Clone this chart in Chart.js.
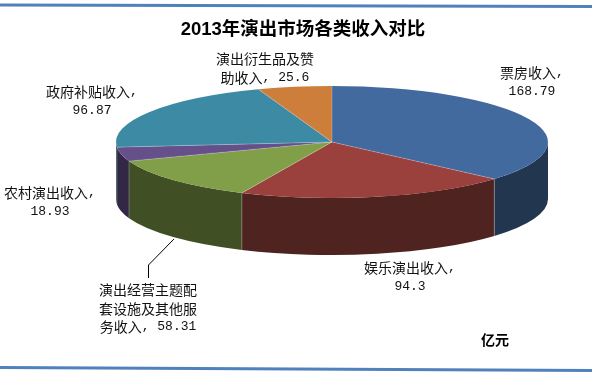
<!DOCTYPE html>
<html><head><meta charset="utf-8">
<style>html,body{margin:0;padding:0;background:#fff}canvas{display:block}</style>
<script src="https://cdn.jsdelivr.net/npm/chart.js@4/dist/chart.umd.min.js"></script>
</head><body><canvas id="c" width="592" height="377"></canvas>
<script>
const categories = ['票房收入','娱乐演出收入','演出经营主题配套设施及其他服务收入','农村演出收入','政府补贴收入','演出衍生品及赞助收入'];
const values = [168.79, 94.3, 58.31, 18.93, 96.87, 25.6];
const labelBreaks = [[5],[7],[7,14],[7],[7],[7]];
const titleText = '2013年演出市场各类收入对比';
const unitText = '亿元';
const topColors = ['#426A9E','#9A403D','#809F48','#65508A','#3C8AA4','#CD7E3B'];
const wallColors = ['#22364F','#4F2320','#414F24','#322845','#1E4552','#66401E'];

const VIEW = {cx:332, cy:142, rx:216, ry:56, depth:57};
const LABEL_POS = [[532,73],[410,268],[148,290],[50,193],[92,92],[265,59]];
const LINE_H = 18.3;
const CJK = "'Noto Sans CJK SC'", MONO = "'Liberation Mono'";

function labelLines(i){
  const t = categories[i] + ', ' + values[i];
  const out = []; let s = 0;
  for (const b of labelBreaks[i]) { out.push(t.slice(s,b).trim()); s = b; }
  out.push(t.slice(s).trim());
  return out;
}
function mixedText(ctx, text, x, y, size, weight){
  const runs = text.match(/[\x00-\x7f]+|[^\x00-\x7f]+/g) || [];
  const fontOf = r => /^[\x00-\x7f]/.test(r) ? `${weight} ${size-1}px ${MONO}` : `${weight} ${size}px ${CJK}`;
  let w = 0;
  for (const r of runs){ ctx.font = fontOf(r); w += ctx.measureText(r).width; }
  let px = x - w/2;
  ctx.textAlign = 'left'; ctx.textBaseline = 'middle';
  for (const r of runs){ ctx.font = fontOf(r); ctx.fillText(r, px, y); px += ctx.measureText(r).width; }
}

const pie3d = {
  id:'pie3d',
  beforeDraw(chart){
    const ctx = chart.ctx;
    ctx.save();
    ctx.fillStyle = '#4F81BD';
    for (const [yl,yr] of [[3.5,5],[366,369]]){
      ctx.beginPath();
      ctx.moveTo(0,yl); ctx.lineTo(592,yr); ctx.lineTo(592,yr+3); ctx.lineTo(0,yl+3);
      ctx.closePath(); ctx.fill();
    }
    ctx.restore();
  },
  beforeDatasetsDraw(chart){
    const ctx = chart.ctx, arcs = chart.getDatasetMeta(0).data, v = VIEW;
    ctx.save();
    arcs.forEach((a,i)=>{
      const s = Math.max(a.startAngle,0), e = Math.min(a.endAngle,Math.PI);
      if (e <= s) return;
      ctx.beginPath();
      ctx.ellipse(v.cx,v.cy,v.rx,v.ry,0,s,e);
      ctx.ellipse(v.cx,v.cy+v.depth,v.rx,v.ry,0,e,s,true);
      ctx.closePath();
      ctx.fillStyle = wallColors[i];
      ctx.fill();
    });
    ctx.strokeStyle = 'rgba(255,255,255,0.25)'; ctx.lineWidth = 1;
    arcs.forEach(a=>{
      const t = a.endAngle;
      if (t <= 0 || t >= Math.PI) return;
      const x = v.cx + v.rx*Math.cos(t), y = v.cy + v.ry*Math.sin(t);
      ctx.beginPath(); ctx.moveTo(x,y); ctx.lineTo(x,y+v.depth); ctx.stroke();
    });
    ctx.restore();
    const a0 = arcs[0], R = a0.outerRadius;
    ctx.save();
    ctx.translate(v.cx,v.cy);
    ctx.scale(v.rx/R, v.ry/R);
    ctx.translate(-a0.x,-a0.y);
  },
  afterDatasetsDraw(chart){
    const ctx = chart.ctx, arcs = chart.getDatasetMeta(0).data, v = VIEW;
    ctx.restore();
    ctx.save();
    ctx.strokeStyle = 'rgba(255,255,255,0.3)'; ctx.lineWidth = 0.8;
    arcs.forEach(a=>{
      ctx.beginPath(); ctx.moveTo(v.cx,v.cy);
      ctx.lineTo(v.cx+v.rx*Math.cos(a.endAngle), v.cy+v.ry*Math.sin(a.endAngle));
      ctx.stroke();
    });
    // leader line of the third label
    ctx.strokeStyle = '#000'; ctx.lineWidth = 1;
    ctx.beginPath(); ctx.moveTo(174,239); ctx.lineTo(148.5,265); ctx.lineTo(148.5,278); ctx.stroke();
    ctx.fillStyle = '#111';
    categories.forEach((_,i)=>{
      labelLines(i).forEach((l,k)=>mixedText(ctx,l,LABEL_POS[i][0],LABEL_POS[i][1]+k*LINE_H,14,'normal'));
    });
    ctx.fillStyle = '#000';
    mixedText(ctx,unitText,495,340,14,'bold');
    ctx.restore();
  }
};

new Chart(document.getElementById('c'),{
  type:'pie',
  data:{labels:categories,datasets:[{data:values,backgroundColor:topColors,borderWidth:0,hoverOffset:0}]},
  options:{
    responsive:false,animation:false,
    layout:{padding:{left:14}},
    events:[],
    plugins:{
      legend:{display:false},tooltip:{enabled:false},
      title:{display:true,text:titleText,color:'#000',
        font:{family:"'Liberation Sans','Noto Sans CJK SC'",size:18.5,weight:'bold'},
        padding:{top:19,bottom:4}}
    }
  },
  plugins:[pie3d]
});
</script></body></html>
